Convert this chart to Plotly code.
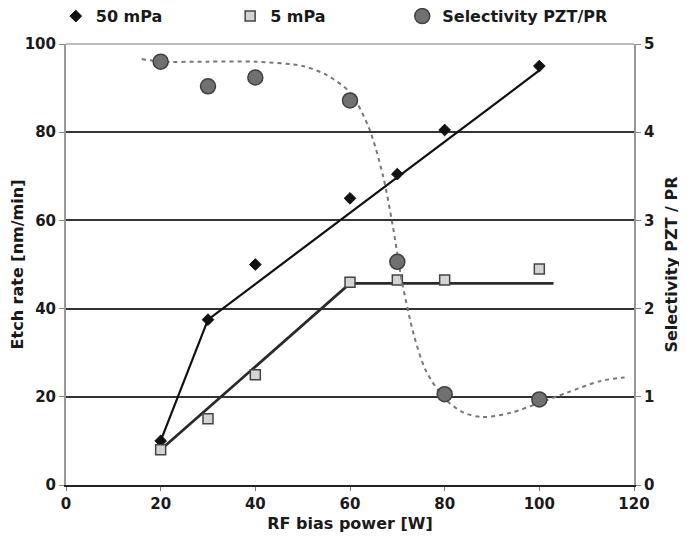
import plotly.graph_objects as go

# --- data ---
power = [20, 30, 40, 60, 70, 80, 100]
etch_50 = [10, 37.5, 50, 65, 70.5, 80.5, 95]
etch_5 = [8, 15, 25, 46, 46.5, 46.5, 49]
power_sel = [20, 30, 40, 60, 70, 80, 100]
selectivity = [4.8, 4.52, 4.62, 4.36, 2.53, 1.03, 0.97]

# trend lines
trend50_x = [20, 30, 100]
trend50_y = [10, 37.5, 94]
trend5_x = [20, 60, 103]
trend5_y = [8, 45.7, 45.7]
sel_curve_x = [16, 20, 30, 40, 50, 55, 60, 64, 67, 69, 71, 73.5, 76, 80, 84, 88, 94, 100, 106, 113, 118]
sel_curve_y = [4.83, 4.8, 4.8, 4.8, 4.75, 4.65, 4.45, 4.05, 3.5, 2.95, 2.3, 1.7, 1.3, 0.98, 0.82, 0.77, 0.82, 0.93, 1.05, 1.18, 1.22]

x_ticks = [0, 20, 40, 60, 80, 100, 120]
y_ticks = [0, 20, 40, 60, 80, 100]
y2_ticks = [0, 1, 2, 3, 4, 5]

FONT = "DejaVu Sans"
tick_font = dict(family=FONT, size=15, color="#1a1a1a", weight="bold")
title_font = dict(family=FONT, size=16, color="#1a1a1a", weight="bold")
legend_font = dict(family=FONT, size=16, color="#1a1a1a", weight="bold")

fig = go.Figure()

# selectivity dotted trend (right axis)
fig.add_trace(go.Scatter(x=sel_curve_x, y=sel_curve_y, mode="lines", yaxis="y2",
                         line=dict(color="#777777", width=2, dash="4px,4px", shape="spline", smoothing=0.8),
                         showlegend=False, hoverinfo="skip"))
# trend lines
fig.add_trace(go.Scatter(x=trend50_x, y=trend50_y, mode="lines",
                         line=dict(color="#111111", width=2.2), showlegend=False, hoverinfo="skip"))
fig.add_trace(go.Scatter(x=trend5_x, y=trend5_y, mode="lines",
                         line=dict(color="#2a2a2a", width=2.8), showlegend=False, hoverinfo="skip"))

# markers
fig.add_trace(go.Scatter(x=power, y=etch_50, mode="markers", name="50 mPa", legend="legend",
                         marker=dict(symbol="diamond", size=9, color="#111111",
                                     line=dict(color="#111111", width=1))))
fig.add_trace(go.Scatter(x=power, y=etch_5, mode="markers", name="5 mPa", legend="legend2",
                         marker=dict(symbol="square", size=10, color="#d4d4d4",
                                     line=dict(color="#444444", width=1.5))))
fig.add_trace(go.Scatter(x=power_sel, y=selectivity, mode="markers", name="Selectivity PZT/PR",
                         yaxis="y2", legend="legend3",
                         marker=dict(symbol="circle", size=15, color="#707070",
                                     line=dict(color="#404040", width=1.5))))

legend_common = dict(orientation="h", y=1.063, yanchor="middle", xanchor="left",
                     itemwidth=30, font=legend_font, bgcolor="rgba(0,0,0,0)")

fig.update_layout(
    width=679, height=532,
    margin=dict(l=58, r=53, t=36, b=55, autoexpand=False),
    paper_bgcolor="white", plot_bgcolor="white",
    font=tick_font,
    showlegend=True,
    legend=dict(x=-0.018, **legend_common),
    legend2=dict(x=0.289, **legend_common),
    legend3=dict(x=0.592, **legend_common),
    xaxis=dict(range=[0, 120], tickvals=x_ticks, automargin=False,
               showgrid=False, zeroline=False, showline=True, linecolor="#222222", linewidth=2,
               ticks="outside", ticklen=4, tickcolor="#777777", tickfont=tick_font,
               title=dict(text="RF bias power [W]", font=title_font, standoff=6)),
    yaxis=dict(range=[0, 100], tickvals=y_ticks, automargin=False,
               showgrid=True, gridcolor="#333333", gridwidth=2,
               zeroline=False, showline=True, linecolor="#999999", linewidth=2,
               ticks="outside", ticklen=5, tickcolor="#888888", tickfont=tick_font,
               title=dict(text="Etch rate [nm/min]", font=title_font, standoff=6)),
    yaxis2=dict(range=[0, 5], tickvals=y2_ticks, automargin=False,
                overlaying="y", side="right", showgrid=False, zeroline=False,
                showline=True, linecolor="#999999", linewidth=2,
                ticks="outside", ticklen=5, tickcolor="#888888", tickfont=tick_font,
                title=dict(text="Selectivity PZT / PR", font=title_font, standoff=12)),
)

# light top frame line at 100 (lighter than the grid)
fig.add_shape(type="line", xref="paper", yref="paper", x0=0, x1=1, y0=1, y1=1,
              line=dict(color="#bbbbbb", width=2), layer="above")

fig.write_html("out.html")
